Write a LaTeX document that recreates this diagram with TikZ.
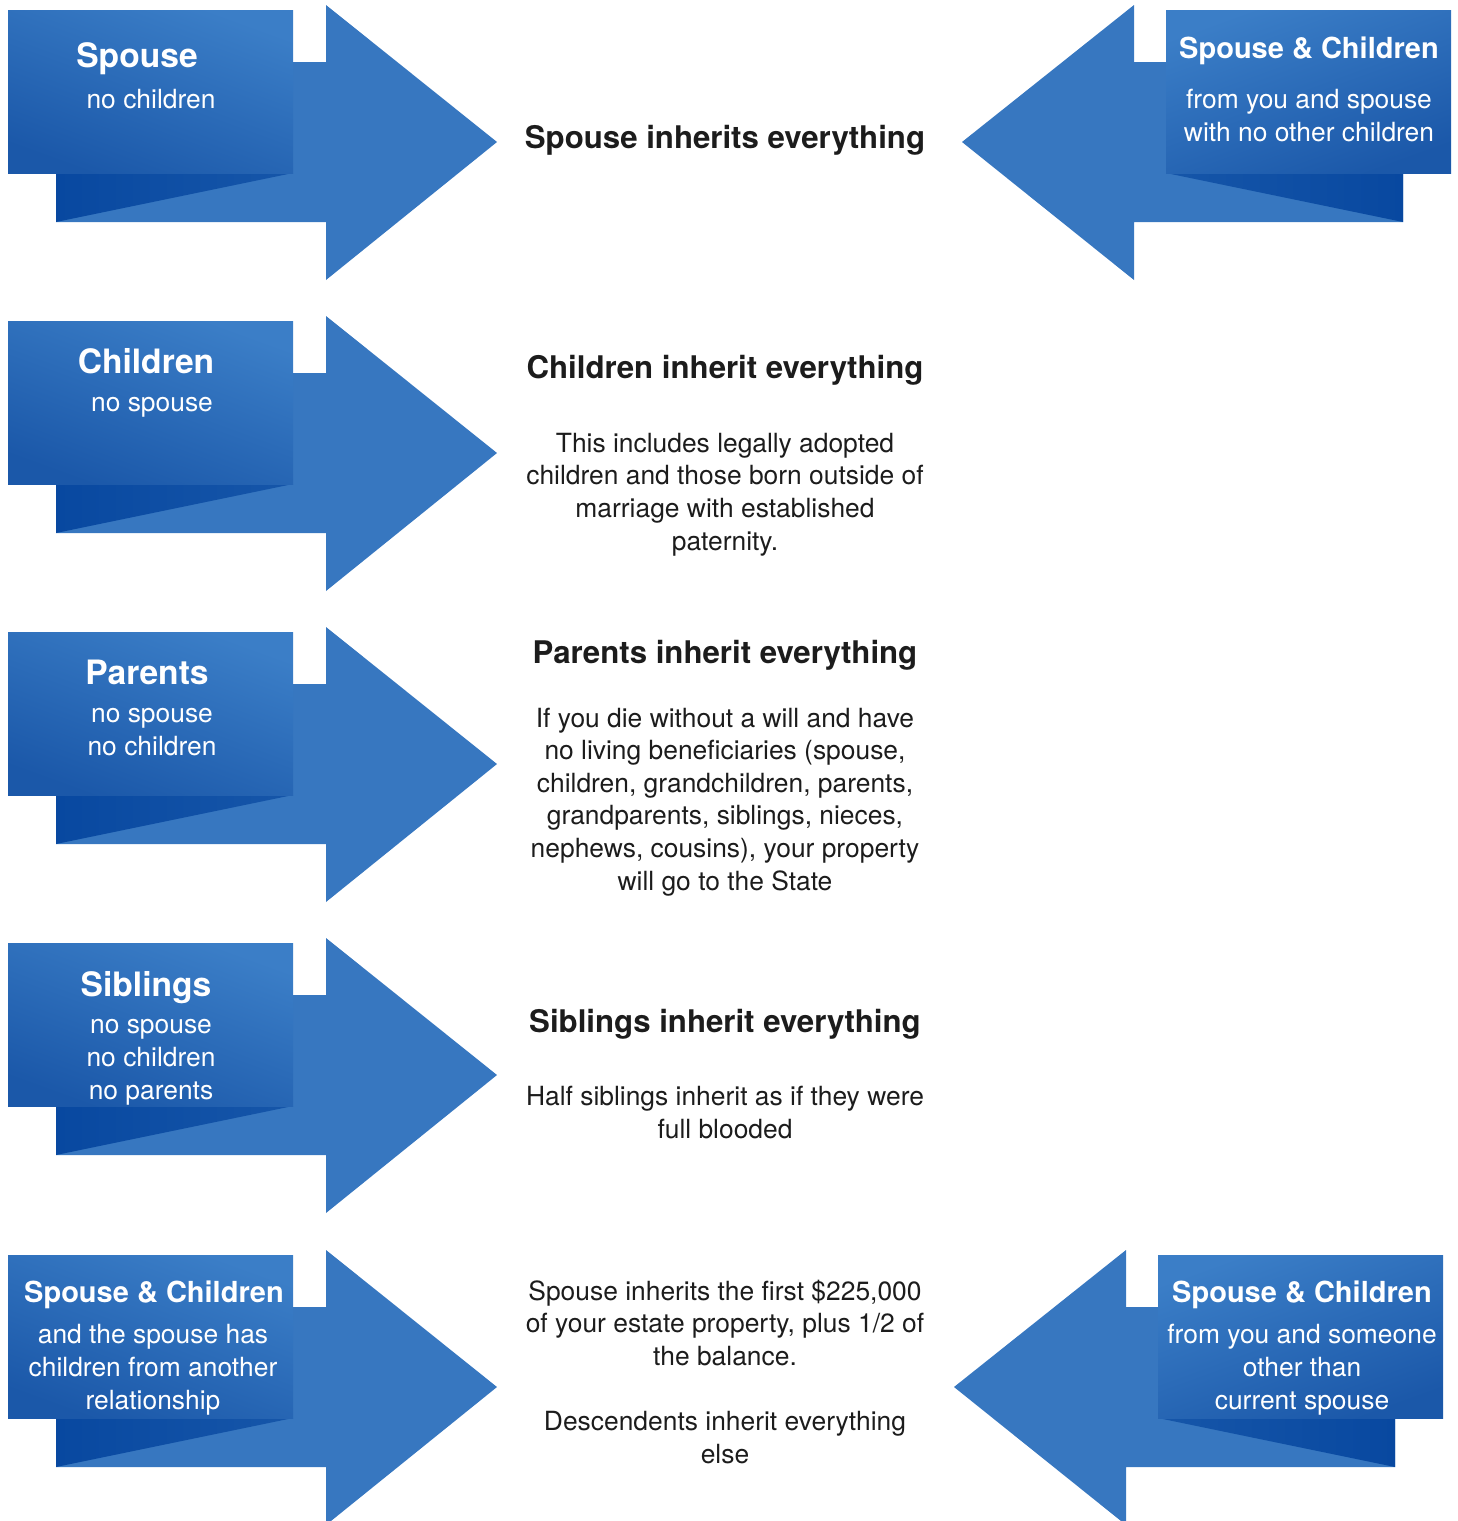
\documentclass[tikz,border=0pt]{standalone}
\usepackage{fontspec}
\setmainfont{TeX Gyre Heros}
\usetikzlibrary{positioning,calc}

\definecolor{arrowblue}{HTML}{3777C0}
\definecolor{boxlight}{HTML}{3B7EC7}
\definecolor{boxdark}{HTML}{1B58A9}
\definecolor{folddark}{HTML}{0848A0}
\definecolor{foldlight}{HTML}{1656A9}
\definecolor{textdark}{HTML}{1C1C1C}

\tikzset{
  arrowbody/.style={fill=arrowblue, draw=none},
  lbox/.style={draw=none, shading=axis, top color=boxlight, bottom color=boxdark, shading angle=-20},
  rbox/.style={draw=none, shading=axis, top color=boxlight, bottom color=boxdark, shading angle=20},
  lfold/.style={draw=none, left color=folddark, right color=foldlight},
  rfold/.style={draw=none, left color=foldlight, right color=folddark},
  boxtitle/.style={text=white, inner sep=0pt, font=\bfseries\fontsize{16.8}{20}\selectfont},
  smalltitle/.style={text=white, inner sep=0pt, font=\bfseries\fontsize{14.5}{18}\selectfont},
  boxtext/.style={text=white, inner sep=0pt, align=center, font=\fontsize{13.2}{16.3}\selectfont},
  headtext/.style={text=textdark, inner sep=0pt, font=\bfseries\fontsize{15.6}{19}\selectfont},
  bodytext/.style={text=textdark, inner sep=0pt, align=center, font=\fontsize{13.2}{16.3}\selectfont},
}

\begin{document}
\begin{tikzpicture}[x=0.5pt,y=-0.5pt]
  \useasboundingbox (0,0) rectangle (1457,1521);

  % left arrows, one per row
  \begin{scope}[shift={(0,0)}]
    \fill[arrowbody] (56,62) -- (326,62) -- (326,5) -- (497,142) -- (326,280) -- (326,222) -- (56,222) -- cycle;
    \shade[lfold] (56,173) -- (293,173) -- (56,222) -- cycle;
    \shade[lbox] (8,10) rectangle (293,173);
  \end{scope}
  \begin{scope}[shift={(0,311)}]
    \fill[arrowbody] (56,62) -- (326,62) -- (326,5) -- (497,142) -- (326,280) -- (326,222) -- (56,222) -- cycle;
    \shade[lfold] (56,173) -- (293,173) -- (56,222) -- cycle;
    \shade[lbox] (8,10) rectangle (293,173);
  \end{scope}
  \begin{scope}[shift={(0,622)}]
    \fill[arrowbody] (56,62) -- (326,62) -- (326,5) -- (497,142) -- (326,280) -- (326,222) -- (56,222) -- cycle;
    \shade[lfold] (56,173) -- (293,173) -- (56,222) -- cycle;
    \shade[lbox] (8,10) rectangle (293,173);
  \end{scope}
  \begin{scope}[shift={(0,933)}]
    \fill[arrowbody] (56,62) -- (326,62) -- (326,5) -- (497,142) -- (326,280) -- (326,222) -- (56,222) -- cycle;
    \shade[lfold] (56,173) -- (293,173) -- (56,222) -- cycle;
    \shade[lbox] (8,10) rectangle (293,173);
  \end{scope}
  \begin{scope}[shift={(0,1245)}]
    \fill[arrowbody] (56,62) -- (326,62) -- (326,5) -- (497,142) -- (326,280) -- (326,222) -- (56,222) -- cycle;
    \shade[lfold] (56,173) -- (293,173) -- (56,222) -- cycle;
    \shade[lbox] (8,10) rectangle (293,173);
  \end{scope}

  % right arrows
  \begin{scope}[shift={(0,0)}]
    \fill[arrowbody] (1403,62) -- (1134,62) -- (1134,5) -- (962,142) -- (1134,280) -- (1134,222) -- (1403,222) -- cycle;
    \shade[rfold] (1166,173) -- (1403,173) -- (1403,222) -- cycle;
    \shade[rbox] (1166,10) rectangle (1451,173);
  \end{scope}
  \begin{scope}[shift={(-8,1245)}]
    \fill[arrowbody] (1403,62) -- (1134,62) -- (1134,5) -- (962,142) -- (1134,280) -- (1134,222) -- (1403,222) -- cycle;
    \shade[rfold] (1166,173) -- (1403,173) -- (1403,222) -- cycle;
    \shade[rbox] (1166,10) rectangle (1451,173);
  \end{scope}

  % box labels (multi-line nodes sit on their last baseline)
  \node[boxtitle, anchor=base] (spouseT) at (137,67) {Spouse};
  \node[boxtext, anchor=base] (spouseS) at (151,108) {no children};

  \node[boxtitle, anchor=base] (childT) at (146,373) {Children};
  \node[boxtext, anchor=base] (childS) at (152,411) {no spouse};

  \node[boxtitle, anchor=base] (parentT) at (147,684) {Parents};
  \node[boxtext, anchor=base] (parentS) at (152,755) {no spouse\\no children};

  \node[boxtitle, anchor=base] (sibT) at (146,996) {Siblings};
  \node[boxtext, anchor=base] (sibS) at (151,1099) {no spouse\\no children\\no parents};

  \node[smalltitle, anchor=base] (spchT) at (154,1302) {Spouse \& Children};
  \node[boxtext, anchor=base] (spchS) at (153,1409) {and the spouse has\\children from another\\relationship};

  \node[smalltitle, anchor=base] (spchRT) at (1309,58) {Spouse \& Children};
  \node[boxtext, anchor=base] (spchRS) at (1309,141) {from you and spouse\\with no other children};

  \node[smalltitle, anchor=base] (spchLT) at (1302,1302) {Spouse \& Children};
  \node[boxtext, anchor=base] (spchLS) at (1302,1409) {from you and someone\\other than\\current spouse};

  % middle texts
  \node[headtext, anchor=base] (spouseH) at (725,148) {Spouse inherits everything};

  \node[headtext, anchor=base] (childH) at (725,378) {Children inherit everything};
  \node[bodytext, anchor=base] (childB) at (725,550) {This includes legally adopted\\children and those born outside of\\marriage with established\\paternity.};

  \node[headtext, anchor=base] (parentH) at (725,663) {Parents inherit everything};
  \node[bodytext, anchor=base] (parentB) at (725,890) {If you die without a will and have\\no living beneficiaries (spouse,\\children, grandchildren, parents,\\grandparents, siblings, nieces,\\nephews, cousins), your property\\will go to the State};

  \node[headtext, anchor=base] (sibH) at (725,1032) {Siblings inherit everything};
  \node[bodytext, anchor=base] (sibB) at (725,1138) {Half siblings inherit as if they were\\full blooded};

  \node[bodytext, anchor=base] (spchB) at (725,1463) {Spouse inherits the first \$225,000\\of your estate property, plus 1/2 of\\the balance.\\[16.3pt]Descendents inherit everything\\else};
\end{tikzpicture}
\end{document}
